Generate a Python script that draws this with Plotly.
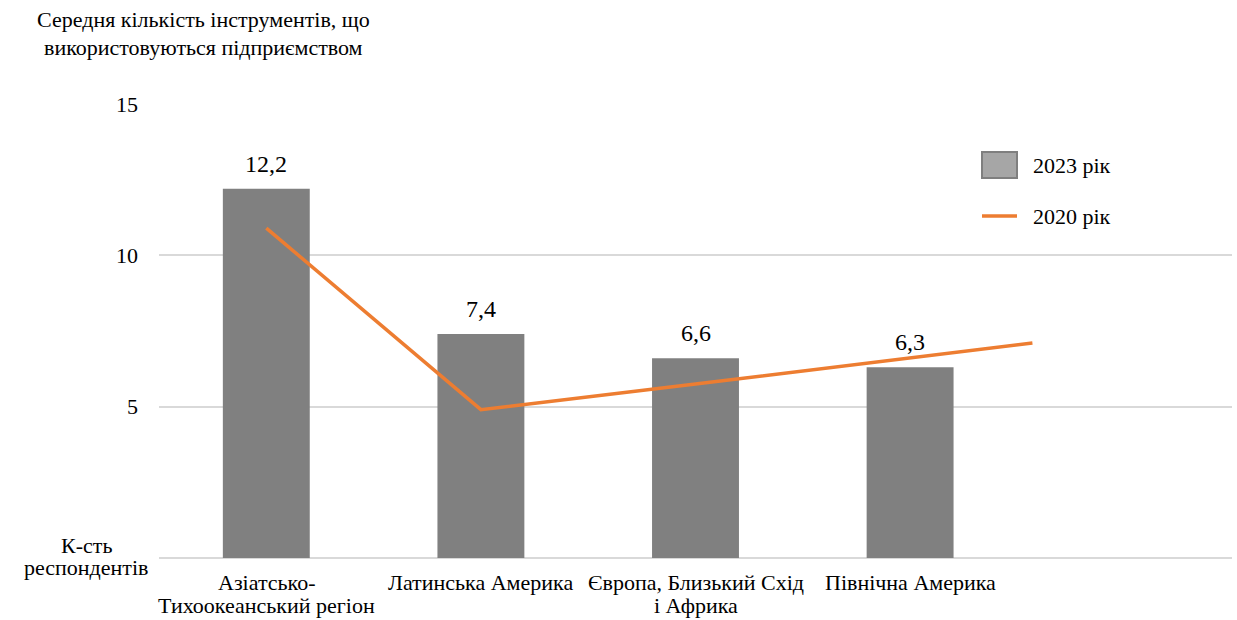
import plotly.graph_objects as go

# Regions and survey values
regions = [
    "Азіатсько-<br>Тихоокеанський регіон",
    "Латинська Америка",
    "Європа, Близький Схід<br>і Африка",
    "Північна Америка",
]
region_pos = [0, 1, 2, 3]
tools_2023 = [12.2, 7.4, 6.6, 6.3]

# 2020 trend line (last point extends past the final region)
line_pos_2020 = [0, 1, 2, 3, 3.57]
tools_2020 = [10.9, 4.9, 5.75, 6.6, 7.1]

y_ticks = [5, 10, 15]

W, H = 1237, 620
L, R, T, B = 159, 5, 104, 62
FONT = "Liberation Serif"
TXT = 22
LINE_GAP = 23
BAR_COLOR = "#808080"
LINE_COLOR = "#ED7D31"
GRID_COLOR = "#d9d9d9"


def px_x(px):
    return (px - L) / (W - L - R)


def px_y(py):
    return (H - B - py) / (H - T - B)


fig = go.Figure()

fig.add_trace(go.Bar(
    x=region_pos,
    y=tools_2023,
    width=0.405,
    marker=dict(color=BAR_COLOR, line=dict(width=0)),
    name="2023 рік",
    showlegend=False,
))

fig.add_trace(go.Scatter(
    x=line_pos_2020,
    y=tools_2020,
    mode="lines",
    line=dict(color=LINE_COLOR, width=3.5),
    name="2020 рік",
    showlegend=False,
))

# Value labels above the bars
for xp, val in zip(region_pos, tools_2023):
    fig.add_annotation(
        x=xp, y=val, xref="x", yref="y",
        text=f"{val:.1f}".replace(".", ","),
        showarrow=False, yanchor="bottom", yshift=10,
        font=dict(family=FONT, size=24, color="#000000"),
    )

# Region names under the axis, one line per annotation for tight line spacing
for xp, name in zip(region_pos, regions):
    for i, part in enumerate(name.split("<br>")):
        fig.add_annotation(
            x=xp, y=0, xref="x", yref="paper",
            text=part, showarrow=False, yanchor="middle",
            yshift=-(24 + LINE_GAP * i),
            font=dict(family=FONT, size=TXT, color="#000000"),
        )

# Legend drawn as shapes + labels
fig.add_shape(type="rect", xref="paper", yref="paper",
              x0=px_x(982), x1=px_x(1017), y0=px_y(178), y1=px_y(152),
              fillcolor="#a6a6a6", line=dict(color="#7f7f7f", width=2))
fig.add_shape(type="line", xref="paper", yref="paper",
              x0=px_x(982), x1=px_x(1017), y0=px_y(216), y1=px_y(216),
              line=dict(color=LINE_COLOR, width=3.5))
fig.add_annotation(xref="paper", yref="paper", x=px_x(1031), y=px_y(166),
                   xanchor="left", yanchor="middle", showarrow=False,
                   text="2023 рік", font=dict(family=FONT, size=TXT, color="#000000"))
fig.add_annotation(xref="paper", yref="paper", x=px_x(1031), y=px_y(216),
                   xanchor="left", yanchor="middle", showarrow=False,
                   text="2020 рік", font=dict(family=FONT, size=TXT, color="#000000"))

# Axis captions
for i, part in enumerate(["Середня кількість інструментів, що",
                          "використовуються підприємством"]):
    fig.add_annotation(xref="paper", yref="paper", x=px_x(203), y=px_y(19 + 28 * i),
                       xanchor="center", yanchor="middle", showarrow=False,
                       text=part, font=dict(family=FONT, size=TXT, color="#000000"))
for i, part in enumerate(["К-сть", "респондентів"]):
    fig.add_annotation(xref="paper", yref="paper", x=px_x(86), y=px_y(545 + 22 * i),
                       xanchor="center", yanchor="middle", showarrow=False,
                       text=part, font=dict(family=FONT, size=TXT, color="#000000"))

fig.update_layout(
    width=W, height=H,
    margin=dict(l=L, r=R, t=T, b=B, pad=0, autoexpand=False),
    paper_bgcolor="white",
    plot_bgcolor="white",
    font=dict(family=FONT, size=TXT, color="#000000"),
    xaxis=dict(
        range=[-0.5, 4.5],
        showticklabels=False,
        showgrid=False,
        zeroline=False,
        showline=False,
        ticks="",
        automargin=False,
        fixedrange=True,
    ),
    yaxis=dict(
        range=[0, 15],
        tickvals=y_ticks,
        showgrid=True,
        gridcolor=GRID_COLOR,
        gridwidth=2,
        zeroline=True,
        zerolinecolor=GRID_COLOR,
        zerolinewidth=2,
        showline=False,
        ticks="",
        ticklabelstandoff=20,
        tickfont=dict(family=FONT, size=22, color="#000000"),
        automargin=False,
        fixedrange=True,
    ),
)

fig.write_html("out.html")
